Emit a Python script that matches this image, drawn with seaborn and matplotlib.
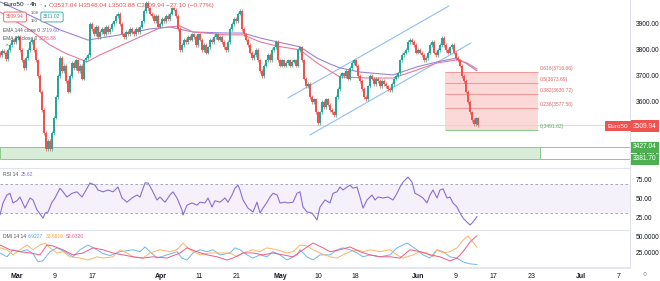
import numpy as np
import pandas as pd
import matplotlib
matplotlib.use("Agg")
import matplotlib.pyplot as plt
from matplotlib.patches import Rectangle
import seaborn as sns

# ---------------- data ----------------
# 4h-style closes (bar index = position along the time axis)
closes = [
    3780, 3795, 3790, 3765, 3800, 3820, 3840, 3830, 3845, 3850,
    3800, 3760, 3730, 3770, 3800, 3830, 3840, 3800, 3760, 3700,
    3640, 3570, 3480, 3420, 3450, 3420, 3480, 3540, 3620, 3700,
    3770, 3720, 3740, 3680, 3640, 3700, 3750, 3730, 3760, 3720,
    3740, 3690, 3760, 3770, 3780, 3900, 3880, 3860, 3890, 3850,
    3870, 3880, 3860, 3890, 3870, 3880, 3900, 3910, 3930, 3940,
    3900, 3860, 3850, 3870, 3860, 3880, 3870, 3860, 3880, 3870,
    3890, 3910, 3950, 3980, 3960, 3940, 3930, 3910, 3930, 3890,
    3900, 3920, 3910, 3930, 3920, 3940, 3960, 3955, 3930, 3880,
    3800, 3820, 3840, 3830, 3850, 3840, 3860, 3850, 3820, 3860,
    3840, 3800, 3820, 3790, 3810, 3840, 3830, 3850, 3860, 3840,
    3850, 3830, 3810, 3800, 3830, 3880, 3900, 3920, 3910, 3940,
    3950, 3880, 3860, 3840, 3820, 3790, 3770, 3780, 3800, 3760,
    3720, 3700, 3740, 3760, 3780, 3760, 3800, 3810, 3830, 3760,
    3740, 3760, 3740, 3750, 3760, 3740, 3755, 3760, 3740, 3800,
    3810, 3760, 3690, 3660, 3670, 3620, 3600, 3610, 3560, 3520,
    3560, 3600, 3580, 3610, 3590, 3570, 3560, 3550, 3620, 3650,
    3700, 3710, 3700, 3720, 3690, 3730, 3750, 3760, 3740, 3700,
    3680, 3650, 3620, 3610, 3660, 3700, 3690, 3670, 3690, 3680,
    3660, 3680, 3670, 3660, 3650, 3645, 3670, 3690, 3700, 3710,
    3760, 3780, 3790, 3800, 3830, 3840, 3830, 3820, 3790, 3800,
    3790, 3780, 3760, 3770, 3790, 3820, 3830, 3790, 3780, 3800,
    3820, 3845, 3820, 3800, 3790, 3810, 3820, 3790, 3770, 3760,
    3740, 3700, 3680, 3640, 3600, 3560, 3530, 3515, 3537.04, 3509.94,
]
first_open = 3790

ema144_bar = [0, 20, 30, 44, 60, 75, 85, 96.5, 113.5, 121.5, 130, 138.5, 150, 158.5,
              165, 170, 180, 196.5, 208.5, 218.5, 228.5, 233.5, 238.5]
ema144 = [3985, 3915, 3877, 3838, 3858, 3881, 3888, 3869, 3865, 3865, 3846, 3831, 3812,
          3769, 3746, 3731, 3715, 3704, 3735, 3754, 3769, 3746, 3719.60]
ema89_bar = [0, 15, 25, 32.5, 43.5, 50, 66.5, 80, 90, 96.5, 113.5, 121.5, 130, 138.5,
             150, 158.5, 165, 170, 185, 196.5, 208.5, 218.5, 228.5, 233.5, 238.5]
ema89 = [3946, 3877, 3819, 3788, 3754, 3781, 3838, 3885, 3892, 3869, 3858, 3858, 3831,
         3815, 3800, 3750, 3719, 3696, 3692, 3692, 3723, 3750, 3762, 3750, 3726.88]

channel_upper_bar = [144, 224.5]
channel_upper = [3615.4, 3969.2]
channel_lower_bar = [155, 235.5]
channel_lower = [3473.1, 3826.9]

fib_bar = [222.5, 269]
fib_ratio = ["0.618", "0.5", "0.382", "0.236", "0"]
fib_level = [3716.66, 3673.69, 3630.72, 3577.56, 3491.62]

zone_bar = [0, 270]
zone_top, zone_bottom = 3427.04, 3381.70
last_price = 3509.94

rsi_bar = [0, 1.5, 3.5, 5, 6.5, 8.5, 10, 12.5, 15, 16.5, 18.5, 21.5, 22.5, 24, 26, 27.5, 30,
           31.5, 33.5, 36, 38.5, 41, 42.5, 45, 47.5, 49, 51.5, 54, 56.5, 59, 61, 63.5, 66,
           68.5, 70, 72.5, 74, 76, 78.5, 80, 82.5, 85, 86.5, 88.5, 91, 91.5, 93.5, 96, 98.5,
           100, 102.5, 104, 106, 107.5, 110, 112.5, 114, 116, 117.5, 119, 120, 121.5, 124,
           126.5, 128.5, 130, 131.5, 133.5, 135, 136.5, 138.5, 140, 142.5, 144, 146.5, 148.5,
           150, 151.5, 153.5, 156, 158.5, 160, 162.5, 165, 166.5, 168.5, 170, 171.5, 173.5,
           175, 176.5, 178.5, 180, 181.5, 183.5, 186, 187.5, 189, 191.5, 194, 196.5, 198.5,
           200, 201.5, 204, 206, 207.5, 209, 211.5, 213.5, 215, 216.5, 218.5, 220, 221.5,
           223.5, 225, 226.5, 228.5, 230, 231.5, 233.5, 235, 236.5, 238.5]
rsi = [27.7, 44, 54.7, 57, 44, 47, 52, 37, 50.7, 48,
       34.5, 23.6, 30, 31.8, 45, 50.7, 64, 59, 52, 57,
       59, 52, 59, 71, 68, 61.5, 59, 61.5, 59, 65.5,
       50.7, 45, 50.7, 54.7, 52, 71, 71, 61.5, 48, 52,
       45, 54.7, 59, 50.7, 34.5, 27.7, 41, 44, 41, 45,
       44, 50.7, 38.5, 47, 45, 50.7, 45, 54.7, 64, 68,
       61.5, 48, 37, 31.8, 45, 30.4, 37, 45, 52, 57,
       55, 44, 45, 44, 45, 57, 59, 38.5, 31.8, 30.4,
       21, 38.5, 48, 44, 57, 59, 65.5, 61.5, 65.5, 68,
       64, 65.5, 52, 37, 48, 54.7, 48, 52, 50.7, 52,
       48, 57, 65.5, 72, 79, 72, 57, 55, 50.7, 44,
       54.7, 61.5, 50.7, 61.5, 63, 50.7, 52, 44, 38.5, 30.4,
       23.6, 18.2, 14.2, 18.2, 25.62]

di_plus_bar = [0, 3.5, 6.5, 10, 13.5, 16.5, 19, 21.5, 25, 28.5, 33.5, 36.5, 40, 44, 48.5,
               51.5, 55, 60, 66.5, 70, 72.5, 75, 78.5, 83.5, 88.5, 91, 93.5, 96.5, 100, 103.5,
               106.5, 110, 115, 117.5, 120, 123.5, 126.5, 130, 133.5, 136.5, 140, 143.5, 148.5,
               150, 153.5, 156.5, 160, 165, 168.5, 171.5, 175, 178.5, 181.5, 185, 190, 195,
               198.5, 203.5, 208.5, 211.5, 215, 218.5, 221.5, 225, 228.5, 231.5, 235, 238.5]
di_plus = [25, 19, 30, 27, 30, 24, 11, 13, 27, 33, 25, 19, 30, 37.5, 30, 24, 21, 27, 30, 27,
           34.4, 27, 17, 22, 27, 17, 14, 25, 30, 27, 30, 22, 25, 33, 30, 22, 17, 22, 19, 27,
           22, 14, 22, 30, 19, 14, 22, 22, 30, 33, 30, 25, 19, 22, 19, 22, 33, 40.6, 30, 22,
           17, 30, 27, 19, 17, 11, 8, 6.9227]
di_minus_bar = [0, 3.5, 6.5, 10, 13.5, 16.5, 20, 22.5, 25, 28.5, 31.5, 35, 40, 44, 48.5, 51.5,
                56.5, 60, 63.5, 66.5, 71.5, 75, 80, 85, 88.5, 91.5, 95, 100, 105, 110, 115,
                118.5, 121.5, 126.5, 130, 133.5, 138.5, 143.5, 146.5, 150, 153.5, 156.5, 160,
                165, 168.5, 171.5, 175, 178.5, 181.5, 185, 190, 195, 198.5, 201.5, 206.5, 210,
                213.5, 216.5, 218.5, 221.5, 225, 228.5, 231.5, 234, 236.5, 238.5]
di_minus = [33, 30, 22, 30, 37.5, 30, 37.5, 40.6, 33, 25, 27, 19, 17, 14, 19, 17, 19, 30, 25, 19,
            17, 25, 30, 27, 30, 40.6, 30, 22, 25, 25, 25, 19, 25, 30, 27, 33, 30, 25, 27, 37.5,
            36, 30, 25, 19, 17, 22, 27, 30, 27, 30, 27, 30, 22, 17, 22, 27, 25, 19, 30, 25,
            27, 33, 45, 51.6, 42, 33.6916]
adx_bar = [0, 5, 10, 15, 20, 23.5, 26.5, 31.5, 36.5, 41.5, 46.5, 51.5, 56.5, 61.5, 66.5, 71.5,
           76.5, 83.5, 90, 93.5, 98.5, 103.5, 108.5, 113.5, 116.5, 121.5, 126.5, 131.5, 136.5,
           141.5, 146.5, 151.5, 156.5, 161.5, 165, 170, 175, 180, 185, 190, 195, 200, 205, 210,
           215, 220, 225, 228.5, 231.5, 235, 238.5]
adx = [37.5, 30, 27, 25, 22, 37.5, 36, 30, 22, 25, 33, 30, 25, 22, 19, 17, 19, 17, 25, 33,
       27, 22, 19, 14, 17, 25, 25, 22, 25, 22, 19, 30, 40.6, 33, 27, 30, 34.4, 27, 22, 19,
       19, 17, 30, 27, 22, 19, 12.5, 17, 27, 42, 52.0326]

tick_days = [0, 6, 12, 23, 29, 35, 42, 48, 54, 64, 70, 76, 82, 90, 96]
tick_labels = ["Mar", "9", "17", "Apr", "11", "21", "May", "10", "18", "Jun", "9", "17",
               "23", "Jul", "7"]
month_labels = {"Mar", "Apr", "May", "Jun", "Jul"}
price_ticks = [3400, 3600, 3700, 3800, 3900]
BARS_PER_DAY = 3.135
DAY0_BAR = 8.5

# ---------------- style ----------------
sns.set_theme(style="white")
plt.rcParams["font.family"] = ["Liberation Sans", "DejaVu Sans"]

UP, DN = "#26a69a", "#ef5350"
TXT = "#131722"
GRID = "#e0e3eb"
LBL = "#50535e"
W, H = 660, 281


def fx(px):
    return px / W


def fy(py):
    return 1 - py / H


fig = plt.figure(figsize=(W / 100, H / 100), dpi=100)
fig.patch.set_facecolor("white")
ax_p = fig.add_axes([0, fy(167), fx(630), 167 / H])
ax_r = fig.add_axes([0, fy(229), fx(630), 61 / H])
ax_d = fig.add_axes([0, fy(268), fx(630), 38 / H])

XMAX = 315
for ax in (ax_p, ax_r, ax_d):
    ax.set_facecolor("white")
    for s in ax.spines.values():
        s.set_visible(False)
    ax.spines["right"].set_visible(True)
    ax.spines["right"].set_color(GRID)
    ax.spines["right"].set_linewidth(0.8)
    ax.yaxis.tick_right()
    ax.tick_params(axis="y", length=0, pad=4, labelsize=4.8, labelcolor=TXT)
for ax in (ax_r, ax_d):
    ax.spines["top"].set_visible(True)
    ax.spines["top"].set_color(GRID)
    ax.spines["top"].set_linewidth(0.8)
ax_d.spines["bottom"].set_visible(True)
ax_d.spines["bottom"].set_color(GRID)

# ---------------- price pane ----------------
c = np.asarray(closes, dtype=float)
o = np.r_[first_open, c[:-1]]
x = np.arange(len(c))
col = np.where(c >= o, UP, DN)
hi = np.maximum(o, c) + 7
lo = np.minimum(o, c) - 7
body = c - o
body = np.where(np.abs(body) < 3, 3, body)

# green zone
ax_p.add_patch(Rectangle((zone_bar[0], zone_bottom), zone_bar[1] - zone_bar[0],
                         zone_top - zone_bottom, facecolor="#d7edd8", edgecolor="#8bc98e",
                         linewidth=0.7, zorder=1))
ax_p.hlines([zone_top, zone_bottom], zone_bar[1], XMAX, colors="#8bc98e", linewidth=0.7, zorder=1)

# fibonacci box
ax_p.add_patch(Rectangle((fib_bar[0], fib_level[-1]), fib_bar[1] - fib_bar[0],
                         fib_level[0] - fib_level[-1], facecolor="#fcd9d9", edgecolor="none",
                         zorder=1))
for r, lv in zip(fib_ratio, fib_level):
    lc = "#8bc98e" if r == "0" else "#f09a9a"
    tc = "#66a86a" if r == "0" else "#e06666"
    ax_p.hlines(lv, fib_bar[0], fib_bar[1], colors=lc, linewidth=0.8, zorder=2)
    ax_p.text(fib_bar[1] + 0.8, lv + 4, f"{r}({lv:.2f})", fontsize=3.6, color=tc,
              va="bottom", ha="left", zorder=5)

# last price line
ax_p.axhline(last_price, color="#f7c9cf", linewidth=0.6, zorder=1)

# channel
sns.lineplot(x=channel_upper_bar, y=channel_upper, ax=ax_p, color="#90bff0", linewidth=0.8)
sns.lineplot(x=channel_lower_bar, y=channel_lower, ax=ax_p, color="#90bff0", linewidth=0.8)

# candles
ax_p.vlines(x, lo, hi, colors=col, linewidth=0.5, zorder=3)
ax_p.bar(x, body, bottom=o, width=0.7, color=col, linewidth=0, zorder=4)

# EMAs
sns.lineplot(x=ema144_bar, y=ema144, ax=ax_p, color="#9c84d4", linewidth=0.8, errorbar=None)
sns.lineplot(x=ema89_bar, y=ema89, ax=ax_p, color="#e77a9a", linewidth=0.8, errorbar=None)
ax_p.set_xlim(0, XMAX)
ax_p.set_ylim(3350, 3992)
ax_p.set_yticks(price_ticks)
ax_p.set_yticklabels([f"{v:.2f}" for v in price_ticks])
ax_p.set_xticks([])
ax_p.set_xlabel("")
ax_p.set_ylabel("")

# ---------------- RSI pane ----------------
ax_r.axhspan(30, 70, color="#7e57c2", alpha=0.08, linewidth=0)
ax_r.axhline(70, color="#9a9cb0", linewidth=0.6, dashes=(3, 3))
ax_r.axhline(30, color="#9a9cb0", linewidth=0.6, dashes=(3, 3))
sns.lineplot(x=rsi_bar, y=rsi, ax=ax_r, color="#8a6fcf", linewidth=0.8, errorbar=None)
ax_r.set_xlim(0, XMAX)
ax_r.set_ylim(8.8, 91.2)
ax_r.set_yticks([25, 50, 75])
ax_r.set_yticklabels(["25.00", "50.00", "75.00"])
ax_r.set_xticks([])
ax_r.set_xlabel("")
ax_r.set_ylabel("")

# ---------------- DMI pane ----------------
sns.lineplot(x=di_plus_bar, y=di_plus, ax=ax_d, color="#6fb6f2", linewidth=0.7, errorbar=None)
sns.lineplot(x=di_minus_bar, y=di_minus, ax=ax_d, color="#ffb366", linewidth=0.7, errorbar=None)
sns.lineplot(x=adx_bar, y=adx, ax=ax_d, color="#ef5a86", linewidth=0.7, errorbar=None)
ax_d.set_xlim(0, XMAX)
ax_d.set_ylim(1.5, 60.9)
ax_d.set_yticks([25, 50])
ax_d.set_yticklabels(["25.0000", "50.0000"])
tick_bars = [DAY0_BAR + BARS_PER_DAY * d for d in tick_days]
ax_d.set_xticks(tick_bars)
ax_d.set_xticklabels(tick_labels)
ax_d.tick_params(axis="x", length=0, pad=3.5, labelsize=5, labelcolor=TXT)
for t in ax_d.get_xticklabels():
    if t.get_text() in month_labels:
        t.set_fontweight("bold")
ax_d.set_xlabel("")
ax_d.set_ylabel("")

# ---------------- overlay texts ----------------
renderer = fig.canvas.get_renderer()


def text_row(px, py, parts, fontsize, gap=2.0):
    """Place several texts one after another on one row, without overlap."""
    cur = px
    for part in parts:
        s, color = part[0], part[1]
        size = part[2] if len(part) > 2 else fontsize
        t = fig.text(fx(cur), fy(py), s, fontsize=size, color=color, va="center")
        bb = t.get_window_extent(renderer=renderer)
        cur += bb.width + gap
    return cur


text_row(3, 5, [("Euro50", TXT), ("\u00b7", TXT), ("4h", TXT), ("\u00b7", TXT),
                ("\u25cf", "#26a69a", 3.2),
                ("O3537.04 H3548.04 L3503.88 C3509.94 \u221227.10 (\u22120.77%)", DN)],
         4.6, gap=2.2)
fig.text(fx(15), fy(17), "3509.94", fontsize=3.5, color=DN, va="center", ha="center",
         bbox=dict(boxstyle="round,pad=0.5,rounding_size=0.3", fc="white", ec=DN, lw=0.6))
fig.text(fx(34.5), fy(13.5), "1.08", fontsize=3.0, color=LBL, va="center", ha="center")
fig.text(fx(34.5), fy(20.5), "150", fontsize=3.0, color=LBL, va="center", ha="center")
fig.text(fx(52), fy(17), "3511.02", fontsize=3.5, color=UP, va="center", ha="center",
         bbox=dict(boxstyle="round,pad=0.5,rounding_size=0.3", fc="white", ec=UP, lw=0.6))
text_row(3, 30, [("EMA 144 close 0", LBL), ("3719.60", "#8a6fcf")], 3.5)
text_row(3, 39, [("EMA 89 close 0", LBL), ("3726.88", "#e0607f")], 3.5)
fig.text(fx(7), fy(47), "^", fontsize=4.0, color=LBL, va="center", ha="center")

text_row(3, 175, [("RSI 14", LBL), ("25.62", "#8a6fcf")], 3.6)
text_row(3, 237, [("DMI 14 14", LBL), ("6.9227", "#4da3ee"), ("33.6916", "#ff9f40"),
                  ("52.0326", "#ef5a86")], 3.6)

# right-axis price labels
fig.text(fx(618), fy(126), "Euro50", fontsize=4.6, color="white", va="center", ha="center",
         bbox=dict(boxstyle="square,pad=0.35", fc=DN, ec="none"))
fig.text(fx(645), fy(126), "3509.94", fontsize=4.8, color="white", va="center", ha="center",
         bbox=dict(boxstyle="square,pad=0.35", fc=DN, ec="none"))
fig.text(fx(645), fy(147), "3427.04", fontsize=4.8, color="white", va="center", ha="center",
         bbox=dict(boxstyle="square,pad=0.3", fc="#4caf50", ec="none"))
fig.text(fx(645), fy(159), "3381.70", fontsize=4.8, color="white", va="center", ha="center",
         bbox=dict(boxstyle="square,pad=0.3", fc="#4caf50", ec="none"))
fig.text(fx(645), fy(275), "\u25cb", fontsize=5, color=LBL, va="center", ha="center")

fig.savefig("out.png", dpi=100, facecolor="white")
